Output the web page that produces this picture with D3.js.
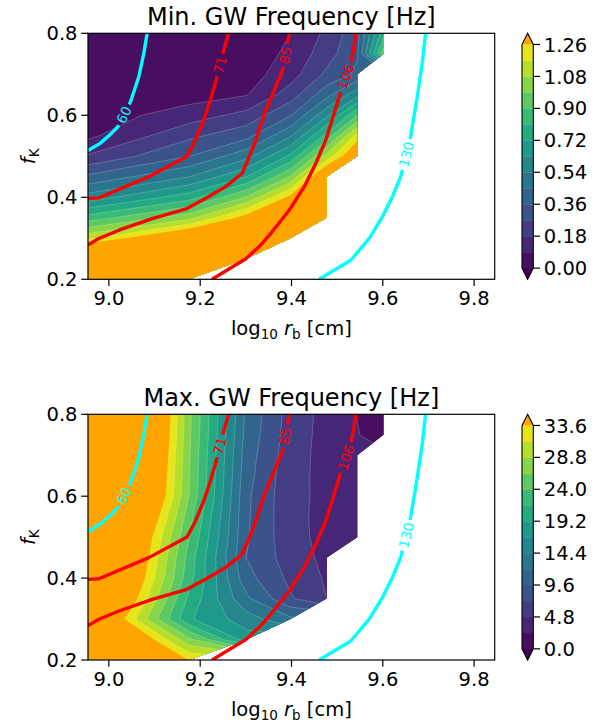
<!DOCTYPE html>
<html><head><meta charset="utf-8">
<script src="https://cdn.jsdelivr.net/npm/d3@7"></script>
<style>
body{margin:0;background:#fff}
text{font-family:"DejaVu Sans",sans-serif}
</style></head>
<body><svg id="c" width="613" height="723"></svg>
<script>
// ---------------- data ----------------
const rb = [0.9e9, 1.5e9, 2.0e9, 2.5e9, 3.0e9, 3.5e9, 4.0e9];        // grid columns r_b [cm]
const fK = [0.2,0.25,0.3,0.35,0.4,0.45,0.5,0.55,0.6,0.65,0.7,0.75,0.8]; // grid rows f_K
const rbLimits = [0.9e9, 7e9];
// Min GW frequency [Hz], rows = fK (bottom->top), cols = rb; null = no solution
const minFreq = [
  [1.8,  1.7,   null,  null,  null,  null, null],
  [1.6,  1.6,   1.9,   null,  null,  null, null],
  [1.15, 1.45,  1.7,   2.0,   null,  null, null],
  [0.85, 1.05,  1.31,  1.8,   2.2,   null, null],
  [0.58, 0.77,  1.0,   1.29,  1.9,   null, null],
  [0.38, 0.54,  0.72,  1.0,   1.45,  null, null],
  [0.19, 0.36,  0.51,  0.74,  1.114, 1.4,  null],
  [0.07, 0.25,  0.33,  0.53,  0.84,  1.21, null],
  [0.04, 0.135, 0.21,  0.355, 0.61,  0.9,  null],
  [0.03, 0.05,  0.085, 0.225, 0.42,  0.6,  null],
  [0.02, 0.03,  0.05,  0.14,  0.29,  0.38, null],
  [0.015,0.02,  0.035, 0.11,  0.23,  0.35, 0.95],
  [0.01, 0.015, 0.03,  0.09,  0.2,   0.33, 0.78]
];
// Max GW frequency [Hz]
const maxFreq = [
  [55,   33.4, null, null, null, null, null],
  [46,   27,   18,   null, null, null, null],
  [41.6, 19.5, 15.5, 12.5, null, null, null],
  [45.6, 21,   12.5, 7.5,  4.8,  null, null],
  [47.9, 22.5, 10.5, 6.6,  4.5,  null, null],
  [49.5, 23,   9.6,  6.0,  4.2,  null, null],
  [50.3, 24,   9.9,  5.6,  4.1,  3.2,  null],
  [53.7, 25,   10.0, 5.5,  4.1,  3.1,  null],
  [57.5, 26.3, 10.1, 5.5,  4.2,  3.0,  null],
  [58.8, 26.5, 10.5, 5.6,  4.1,  2.9,  null],
  [60.4, 26.6, 10.8, 5.8,  4.0,  2.7,  null],
  [62,   26.8, 11.2, 6.0,  4.0,  2.5,  1.5],
  [62.9, 27,   11.5, 6.2,  4.0,  2.35, 1.2]
];
const minLevels = [0,0.09,0.18,0.27,0.36,0.45,0.54,0.63,0.72,0.81,0.90,0.99,1.08,1.17,1.26];
const maxLevels = [0,2.4,4.8,7.2,9.6,12,14.4,16.8,19.2,21.6,24,26.4,28.8,31.2,33.6];
const minTicks = ["0.00","0.18","0.36","0.54","0.72","0.90","1.08","1.26"];
const maxTicks = ["0.0","4.8","9.6","14.4","19.2","24.0","28.8","33.6"];
const xTicks = [9.0, 9.2, 9.4, 9.6, 9.8];
const yTicks = [0.2, 0.4, 0.6, 0.8];
// overlay contour lines (log10 r_b, f_K)
const line60  = [[8.9542,0.514],[8.98,0.531],[9.0015,0.5516],[9.0197,0.572],[9.0474,0.633],[9.0656,0.694],[9.0765,0.751],[9.0838,0.8]];
const line71  = [[8.9542,0.397],[8.978,0.3985],[9.0875,0.45],[9.1713,0.5004],[9.1895,0.539],[9.2077,0.588],[9.2223,0.637],[9.2332,0.678],[9.2514,0.759],[9.2623,0.8]];
const line85  = [[8.9542,0.284],[8.978,0.2994],[9.022,0.3197],[9.095,0.3482],[9.171,0.3726],[9.2114,0.397],[9.255,0.4254],[9.2916,0.458],[9.305,0.4925],[9.3192,0.5312],[9.341,0.6045],[9.3622,0.6616],[9.3803,0.7104],[9.3912,0.7756],[9.395,0.8]];
const line106 = [[9.226,0.2],[9.3,0.25],[9.3316,0.2826],[9.351,0.307],[9.3949,0.3685],[9.4277,0.4254],[9.4532,0.4825],[9.4751,0.5394],[9.4933,0.6045],[9.5079,0.6575],[9.5297,0.7267],[9.537,0.7674],[9.5407,0.8]];
const line130 = [[9.4605,0.2],[9.5298,0.2464],[9.5698,0.2994],[9.599,0.3523],[9.6208,0.401],[9.639,0.4498],[9.6608,0.5475],[9.6754,0.6452],[9.6863,0.7267],[9.6937,0.8]];
const overlayNames  = ["60","71","85","106","130"];
const overlayColors = ["#00ffff","#ff0000","#ff0000","#ff0000","#00ffff"];
const overlayLabelAt = [[9.035,0.60],[9.244,0.7226],[9.384,0.747],[9.520,0.694],[9.650,0.505]];
const overlayLines = [line60, line71, line85, line106, line130];

// ---------------- drawing ----------------
const svg = d3.select("#c");
svg.append("rect").attr("width",613).attr("height",723).attr("fill","#fff");
const defs = svg.append("defs");
const AXL = 88, AXR = 494.7;
const CBX0 = 522, CBX1 = 533.3;
const logRb = rb.map(Math.log10);
const n = rb.length, m = fK.length;

const panels = [
  {id:"top", top:33.3, bottom:279.3, grid:minFreq, levels:minLevels, ticks:minTicks, title:"Min. GW Frequency [Hz]"},
  {id:"bot", top:414.3, bottom:660, grid:maxFreq, levels:maxLevels, ticks:maxTicks, title:"Max. GW Frequency [Hz]"}
];

const nb = 14;
const bandColor = k => d3.interpolateViridis((k + 0.5) / nb);
const overColor = "#ffa500", underColor = d3.interpolateViridis(0);

panels.forEach(P => {
  const x = d3.scaleLinear().domain(rbLimits.map(Math.log10)).range([AXL, AXR]);
  const y = d3.scaleLinear().domain([0.2, 0.8]).range([P.bottom, P.top]);
  const g = svg.append("g");

  const vals = new Array(n * m);
  const lastValid = [];
  P.grid.forEach((row, j) => {
    let last = null, lv = 0;
    row.forEach((v, i) => {
      if (v == null) v = last; else { last = v; lv = i; }
      vals[j * n + i] = v;
    });
    lastValid.push(lv);
  });

  const poly = [[logRb[0], fK[0]]];
  fK.forEach((f, j) => poly.push([logRb[lastValid[j]], f]));
  poly.push([logRb[0], fK[m - 1]]);
  defs.append("clipPath").attr("id", "valid-" + P.id)
    .append("polygon").attr("points", poly.map(p => [x(p[0]), y(p[1])].join(",")).join(" "));
  defs.append("clipPath").attr("id", "axes-" + P.id)
    .append("rect").attr("x", AXL).attr("y", P.top).attr("width", AXR - AXL).attr("height", P.bottom - P.top);

  function g2d(gx, gy) {
    const tx = Math.max(0, Math.min(n - 1, gx - 0.5));
    const i = Math.min(n - 2, Math.floor(tx)), fx = tx - i;
    const ty = Math.max(0, Math.min(m - 1, gy - 0.5));
    const j = Math.min(m - 2, Math.floor(ty)), fy = ty - j;
    return [logRb[i] + fx * (logRb[i + 1] - logRb[i]), fK[j] + fy * (fK[j + 1] - fK[j])];
  }
  const path = d3.geoPath(d3.geoTransform({
    point(gx, gy) { const d = g2d(gx, gy); this.stream.point(x(d[0]), y(d[1])); }
  }));
  const contours = d3.contours().size([n, m]).thresholds(P.levels)(vals);
  const cg = g.append("g").attr("clip-path", `url(#valid-${P.id})`);
  cg.append("polygon").attr("points", poly.map(p => [x(p[0]), y(p[1])].join(",")).join(" "))
    .attr("fill", underColor);
  contours.forEach((c, k) => {
    cg.append("path").attr("d", path(c))
      .attr("fill", k < nb ? bandColor(k) : overColor)
      .attr("stroke", k > 0 && k < nb ? "rgba(255,255,255,0.35)" : "none")
      .attr("stroke-width", 0.6);
  });

  const og = g.append("g").attr("clip-path", `url(#axes-${P.id})`);
  const mask = defs.append("mask").attr("id", "gap-" + P.id).attr("maskUnits", "userSpaceOnUse")
    .attr("x", 0).attr("y", 0).attr("width", 613).attr("height", 723);
  mask.append("rect").attr("width", 613).attr("height", 723).attr("fill", "#fff");
  const lg = og.append("g").attr("mask", `url(#gap-${P.id})`);
  const tg = og.append("g");
  overlayLines.forEach((ln, li) => {
    const pp = ln.map(d => [x(d[0]), y(d[1])]);
    lg.append("path").attr("d", d3.line()(pp)).attr("fill", "none")
      .attr("stroke", overlayColors[li]).attr("stroke-width", 3.4).attr("stroke-linejoin", "round");
    const q = [x(overlayLabelAt[li][0]), y(overlayLabelAt[li][1])];
    let best = {d: Infinity};
    for (let i = 0; i < pp.length - 1; i++) {
      const [x1, y1] = pp[i], [x2, y2] = pp[i + 1];
      const dx = x2 - x1, dy = y2 - y1, L2 = dx * dx + dy * dy;
      let t = ((q[0] - x1) * dx + (q[1] - y1) * dy) / L2; t = Math.max(0, Math.min(1, t));
      const px = x1 + t * dx, py = y1 + t * dy, dd = (px - q[0]) ** 2 + (py - q[1]) ** 2;
      if (dd < best.d) best = {d: dd, x: px, y: py, a: Math.atan2(dy, dx) * 180 / Math.PI};
    }
    let a = best.a; if (a > 90) a -= 180; if (a < -90) a += 180;
    const txt = tg.append("text").attr("x", 0).attr("y", 0)
      .attr("transform", `translate(${best.x},${best.y}) rotate(${a})`)
      .attr("text-anchor", "middle").attr("dy", "0.36em")
      .attr("font-size", 13.5).attr("fill", overlayColors[li]).text(overlayNames[li]);
    const tl = txt.node().getComputedTextLength();
    mask.append("rect").attr("x", -tl / 2 - 3).attr("y", -8).attr("width", tl + 6).attr("height", 16)
      .attr("fill", "#000").attr("transform", `translate(${best.x},${best.y}) rotate(${a})`);
  });

  g.append("rect").attr("x", AXL).attr("y", P.top).attr("width", AXR - AXL).attr("height", P.bottom - P.top)
    .attr("fill", "none").attr("stroke", "#000").attr("stroke-width", 1.2);
  xTicks.forEach(t => {
    g.append("line").attr("x1", x(t)).attr("x2", x(t)).attr("y1", P.bottom).attr("y2", P.bottom + 6.75)
      .attr("stroke", "#000").attr("stroke-width", 1.2);
    g.append("text").attr("x", x(t)).attr("y", P.bottom + 26).attr("text-anchor", "middle")
      .attr("font-size", 19.5).text(d3.format(".1f")(t));
  });
  yTicks.forEach(t => {
    g.append("line").attr("x1", AXL - 6.75).attr("x2", AXL).attr("y1", y(t)).attr("y2", y(t))
      .attr("stroke", "#000").attr("stroke-width", 1.2);
    g.append("text").attr("x", AXL - 10.5).attr("y", y(t) + 7.1).attr("text-anchor", "end")
      .attr("font-size", 19.5).text(d3.format(".1f")(t));
  });
  const xl = g.append("text").attr("x", (AXL + AXR) / 2).attr("y", P.bottom + 56)
    .attr("text-anchor", "middle").attr("font-size", 19.5);
  xl.append("tspan").text("log");
  xl.append("tspan").attr("font-size", 13.5).attr("dy", 4).text("10");
  xl.append("tspan").attr("dy", -4).text(" ");
  xl.append("tspan").attr("font-style", "italic").text("r");
  xl.append("tspan").attr("font-size", 13.5).attr("dy", 4).text("b");
  xl.append("tspan").attr("dy", -4).text(" [cm]");
  const yl = g.append("text").attr("transform", `translate(35,${(P.top + P.bottom) / 2}) rotate(-90)`)
    .attr("text-anchor", "middle").attr("font-size", 19.5);
  yl.append("tspan").attr("font-style", "italic").text("f");
  yl.append("tspan").attr("font-size", 13.5).attr("dy", 4).text("K");
  g.append("text").attr("x", (AXL + AXR) / 2).attr("y", P.top - 8.6).attr("text-anchor", "middle")
    .attr("font-size", 24).text(P.title);

  const L = (P.bottom - P.top) / 1.1, ext = 0.05 * L;
  const cTop = P.top + ext, cBot = P.bottom - ext;
  const cs = d3.scaleLinear().domain([P.levels[0], P.levels[P.levels.length - 1]]).range([cBot, cTop]);
  const cb = svg.append("g");
  for (let k = 0; k < nb; k++) {
    cb.append("rect").attr("x", CBX0).attr("width", CBX1 - CBX0)
      .attr("y", cs(P.levels[k + 1])).attr("height", cs(P.levels[k]) - cs(P.levels[k + 1]) + 0.3)
      .attr("fill", bandColor(k));
  }
  const xm = (CBX0 + CBX1) / 2;
  cb.append("path").attr("d", `M${CBX0},${cTop}L${xm},${P.top}L${CBX1},${cTop}Z`).attr("fill", overColor);
  cb.append("path").attr("d", `M${CBX0},${cBot}L${xm},${P.bottom}L${CBX1},${cBot}Z`).attr("fill", underColor);
  cb.append("path").attr("d", `M${CBX0},${cTop}L${xm},${P.top}L${CBX1},${cTop}L${CBX1},${cBot}L${xm},${P.bottom}L${CBX0},${cBot}Z`)
    .attr("fill", "none").attr("stroke", "#000").attr("stroke-width", 1.1);
  P.ticks.forEach(s => {
    const v = +s;
    cb.append("line").attr("x1", CBX1).attr("x2", CBX1 + 6.75).attr("y1", cs(v)).attr("y2", cs(v))
      .attr("stroke", "#000").attr("stroke-width", 1.2);
    cb.append("text").attr("x", CBX1 + 10.5).attr("y", cs(v) + 7.1).attr("font-size", 19.5).text(s);
  });
});
</script>
</body></html>
